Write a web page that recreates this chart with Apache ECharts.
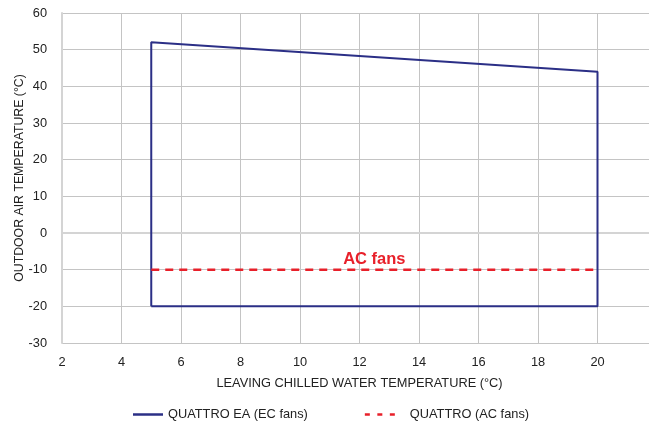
<!DOCTYPE html>
<html><head><meta charset="utf-8">
<script src="https://cdn.jsdelivr.net/npm/echarts@6/dist/echarts.min.js"></script>
<style>html,body{margin:0;padding:0;background:#fff}#c{width:649px;height:426px}</style>
</head><body><div id="c"></div>
<script>
const ecFansX = [5, 5, 20, 20, 5];
const ecFansY = [-20, 52, 44, -20, -20];
const acFansX = [5, 20];
const acFansY = [-10, -10];
const acLabel = {x: 12.5, y: -10, text: 'AC fans'};
const seriesNames = ['QUATTRO EA (EC fans)', 'QUATTRO (AC fans)'];
const xName = 'LEAVING CHILLED WATER TEMPERATURE (°C)';
const yName = 'OUTDOOR AIR TEMPERATURE (°C)';

const chart = echarts.init(document.getElementById('c'));
const font = 'Liberation Sans, Arial, sans-serif';
const navy = '#2b2f86', red = '#e8202a';
chart.setOption({
  animation: false,
  textStyle: {fontFamily: font},
  grid: {left: 62, width: 595, top: 13, height: 330, containLabel: false, outerBoundsMode: 'none'},
  xAxis: {
    type: 'value', min: 2, max: 22, interval: 2,
    name: xName, nameLocation: 'middle', nameGap: 34, nameMoveOverlap: false,
    nameTextStyle: {fontSize: 12.8, color: '#222', fontFamily: font},
    axisLine: {show: true, lineStyle: {color: '#d4d4d4', width: 2}},
    axisTick: {show: false},
    axisLabel: {fontSize: 12.8, color: '#222', margin: 13, fontFamily: font, showMaxLabel: false},
    splitLine: {show: true, lineStyle: {color: '#c4c4c4', width: 1}}
  },
  yAxis: {
    type: 'value', min: -30, max: 60, interval: 10,
    name: yName, nameLocation: 'middle', nameGap: 36, nameMoveOverlap: false,
    nameTextStyle: {fontSize: 12.3, color: '#222', fontFamily: font},
    axisLine: {show: true, lineStyle: {color: '#d4d4d4', width: 2}},
    axisTick: {show: false},
    axisLabel: {fontSize: 12.8, color: '#222', margin: 15, fontFamily: font},
    splitLine: {show: true, lineStyle: {color: '#c4c4c4', width: 1}}
  },
  legend: {
    bottom: 0, left: 128, itemGap: 57, itemWidth: 30, itemHeight: 2.5,
    textStyle: {fontSize: 12.8, color: '#222', fontFamily: font},
    data: [
      {name: seriesNames[0], icon: 'path://M0,0H30V2.5H0Z'},
      {name: seriesNames[1], icon: 'path://M0,0H5V2.5H0Z M12.5,0H17.5V2.5H12.5Z M25,0H30V2.5H25Z',
        textStyle: {padding: [0, 0, 0, 10]}}
    ]
  },
  series: [
    {
      name: seriesNames[0], type: 'line', symbol: 'none',
      data: ecFansX.map((x, i) => [x, ecFansY[i]]),
      lineStyle: {color: navy, width: 2}, itemStyle: {color: navy}
    },
    {
      name: seriesNames[1], type: 'line', symbol: 'none',
      data: acFansX.map((x, i) => [x, acFansY[i]]),
      lineStyle: {color: red, width: 2.5, type: [8, 6]}, itemStyle: {color: red},
      markPoint: {
        symbol: 'circle', symbolSize: 0,
        data: [{coord: [acLabel.x, acLabel.y]}],
        label: {show: true, formatter: acLabel.text, position: 'top', distance: 2,
          color: red, fontWeight: 'bold', fontSize: 16.5, fontFamily: font}
      }
    }
  ]
});
</script></body></html>
